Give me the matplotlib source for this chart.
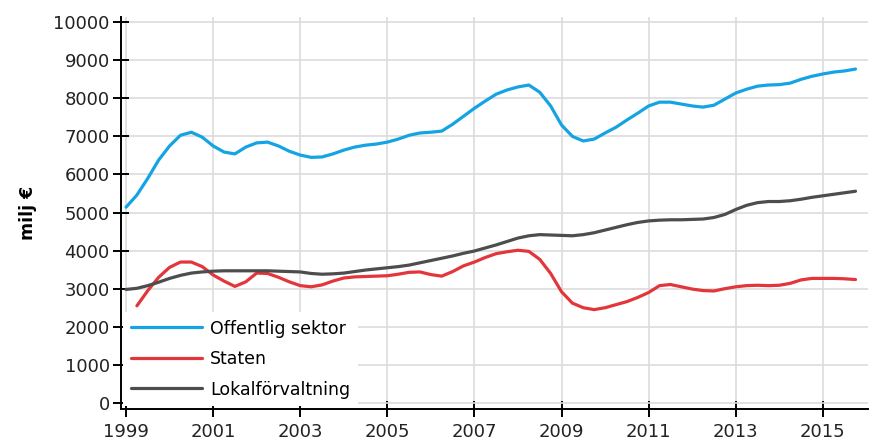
import matplotlib
matplotlib.use("Agg")
import matplotlib.pyplot as plt
import numpy as np

# quarterly values, 1999Q1 .. 2015Q4 (milj €)
quarters = np.arange(1999, 2016, 0.25)

offentlig = [5140, 5460, 5900, 6380, 6750, 7030, 7110, 6980,
             6750, 6590, 6540, 6720, 6830, 6850, 6750, 6610,
             6510, 6450, 6460, 6540, 6640, 6720, 6770, 6800,
             6850, 6930, 7030, 7090, 7110, 7140, 7320, 7530,
             7740, 7930, 8110, 8220, 8300, 8350, 8160, 7800,
             7300, 7000, 6880, 6930, 7090, 7240, 7430, 7610,
             7800, 7900, 7900, 7850, 7800, 7770, 7820, 7980,
             8140, 8240, 8320, 8350, 8360, 8400, 8500, 8580,
             8640, 8690, 8720, 8770]

staten = [np.nan, 2550, 2950, 3300, 3560, 3700, 3700, 3580,
          3360, 3200, 3060, 3180, 3410, 3400, 3300, 3180,
          3080, 3050, 3100, 3200, 3280, 3310, 3320, 3330,
          3340, 3380, 3430, 3440, 3370, 3330, 3450, 3600,
          3700, 3820, 3920, 3970, 4010, 3980, 3770, 3400,
          2920, 2620, 2500, 2450, 2500, 2580, 2660, 2770,
          2900, 3080, 3110, 3050, 2990, 2950, 2940, 3000,
          3050, 3080, 3090, 3080, 3090, 3140, 3230, 3270,
          3270, 3270, 3260, 3240]

lokal = [2980, 3010, 3080, 3170, 3270, 3350, 3410, 3440,
         3460, 3470, 3470, 3470, 3470, 3470, 3460, 3450,
         3440, 3400, 3380, 3390, 3410, 3450, 3490, 3520,
         3550, 3580, 3620, 3680, 3740, 3800, 3860, 3930,
         3990, 4070, 4150, 4240, 4330, 4390, 4420, 4410,
         4400, 4390, 4420, 4470, 4540, 4610, 4680, 4740,
         4780, 4800, 4810, 4810, 4820, 4830, 4870, 4950,
         5080, 5190, 5260, 5290, 5290, 5310, 5350, 5400,
         5440, 5480, 5520, 5560]

labels = ["Offentlig sektor", "Staten", "Lokalförvaltning"]
colors = ["#15a4e3", "#e2363b", "#4d4d4d"]

fig = plt.figure(figsize=(8.69, 4.46), dpi=100)
ax = fig.add_axes([0.139, 0.083, 0.860, 0.88])

for vals, lab, col in zip([offentlig, staten, lokal], labels, colors):
    ax.plot(quarters, vals, color=col, lw=2.3, label=lab, solid_capstyle="round")

ax.set_xlim(1998.88, 2016.04)
ax.set_ylim(-160, 10150)
ax.set_yticks(np.arange(0, 10001, 1000))
ax.set_xticks(np.arange(1999, 2016, 2))

ax.grid(True, color="#dcdcdc", lw=1.2)
ax.set_axisbelow(True)
for s in ["top", "right"]:
    ax.spines[s].set_visible(False)
for s in ["left", "bottom"]:
    ax.spines[s].set_linewidth(1.4)
ax.tick_params(direction="inout", length=12, width=1.4, labelsize=13,
               colors="black", labelcolor="#222222")
ax.tick_params(axis="y", pad=2)
ax.tick_params(axis="x", pad=4)

ax.set_ylabel("milj €", fontsize=12.5, fontweight="bold", labelpad=12)

leg = ax.legend(loc="lower left", bbox_to_anchor=(0.0, 0.0), fontsize=12.5,
                handlelength=4.1, handletextpad=0.45, labelspacing=0.72,
                frameon=True, framealpha=1, facecolor="white", edgecolor="none",
                borderpad=0.45, borderaxespad=0.15, fancybox=False)

fig.savefig("out.png", dpi=100)
